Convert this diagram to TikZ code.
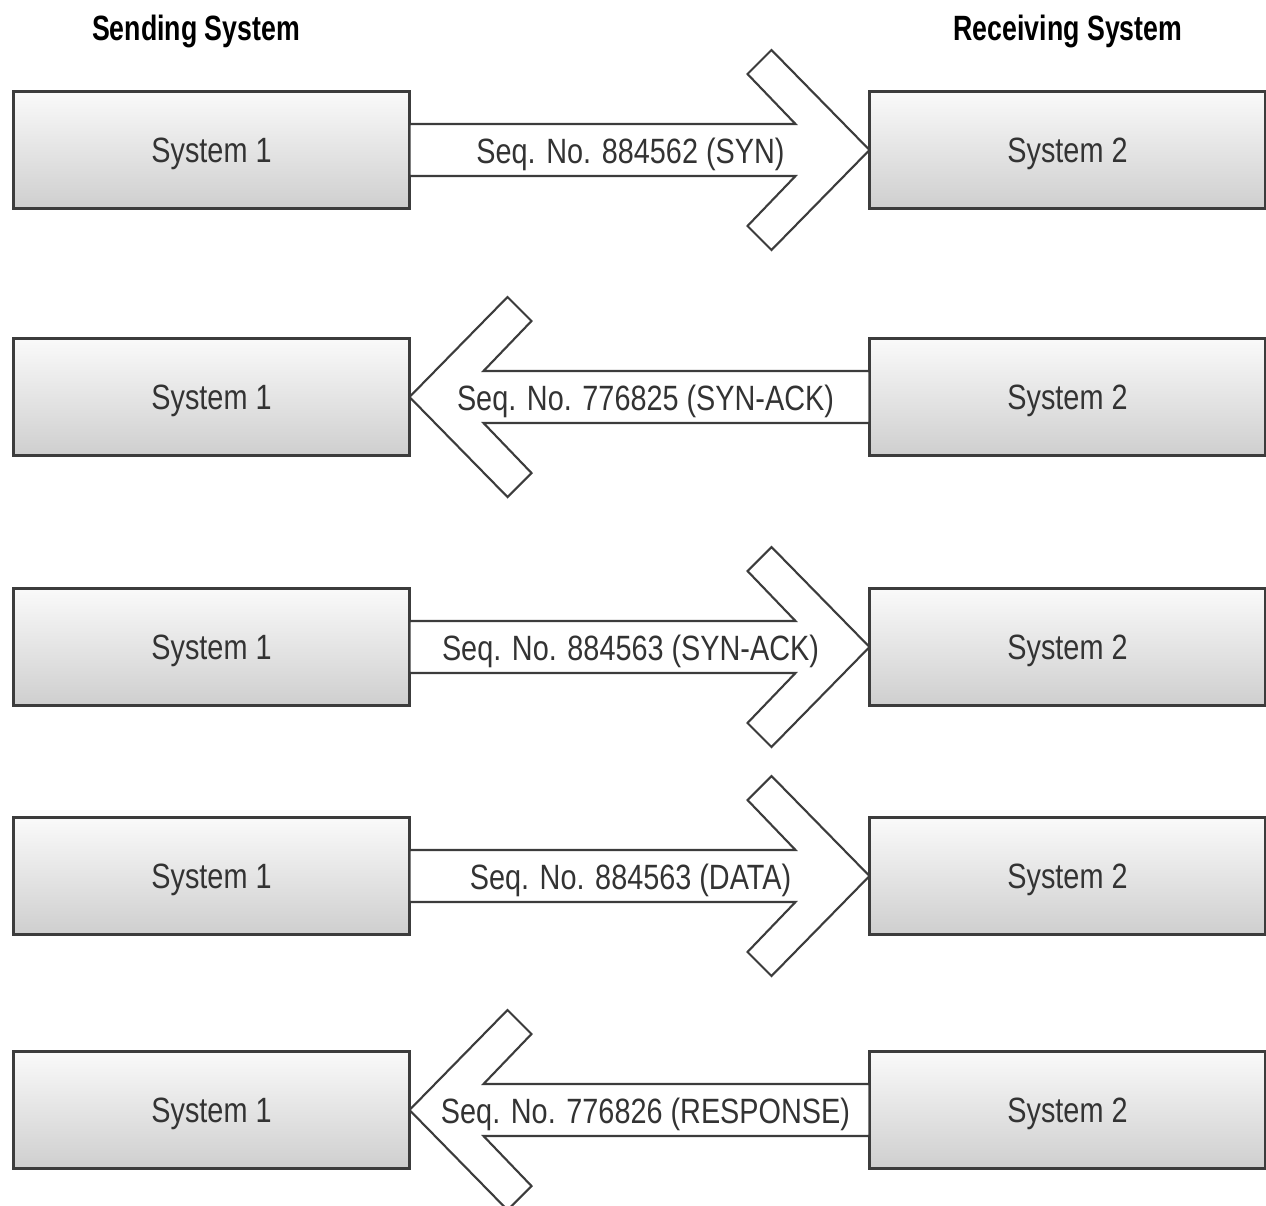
\documentclass[tikz,border=0pt]{standalone}
\usepackage{fontspec}
\setmainfont{Liberation Sans}[FakeStretch=0.82]
\newfontfamily\headfont{Liberation Sans}[FakeStretch=0.76]
\usetikzlibrary{positioning}
\definecolor{edge}{HTML}{3C3C3C}
\definecolor{ink}{HTML}{333333}

\begin{document}
\begin{tikzpicture}[
    sysbox/.style={draw=edge, line width=.7pt, top color=white!96!gray, bottom color=gray!38,
      minimum width=3.96cm, minimum height=1.17cm, inner sep=0pt, outer sep=0pt,
      text depth=0pt, text=ink, font=\fontsize{10}{12}\selectfont},
    msgarrow/.style={draw=edge, line width=.6pt, fill=white, line join=miter},
    msg/.style={text=ink, font=\fontsize{10}{12}\selectfont, inner sep=0pt},
    head/.style={font=\headfont\bfseries\fontsize{10}{12}\selectfont, text=black}]
  \useasboundingbox (0,0) rectangle (12.66,-12.06);
  \node[head] (send) at (1.96,-0.31) {Sending System};
  \node[head] (recv) at (10.68,-0.31) {Receiving System};
  \foreach \r/\y in {1/1.50, 2/3.97, 3/6.47, 4/8.76, 5/11.10}{
    \node[sysbox] (s\r) at (2.115,-\y) {System 1};
    \node[sysbox] (t\r) at (10.675,-\y) {System 2};
  }
  % system 1 -> system 2
  \foreach \r/\lab in {1/{Seq. No. 884562 (SYN)}, 3/{Seq. No. 884563 (SYN-ACK)}, 4/{Seq. No. 884563 (DATA)}}{
    \draw[msgarrow] ([yshift=.26cm]s\r.east) -- ([shift={(-.74,.26)}]t\r.west)
      -- ([shift={(-1.22,.76)}]t\r.west) -- ([shift={(-.98,1)}]t\r.west) -- (t\r.west)
      -- ([shift={(-.98,-1)}]t\r.west) -- ([shift={(-1.22,-.76)}]t\r.west)
      -- ([shift={(-.74,-.26)}]t\r.west) -- ([yshift=-.26cm]s\r.east) -- cycle;
    \node[msg] (m\r) at ([xshift=2.21cm,yshift=-.04cm]s\r.east) {\lab};
  }
  % system 2 -> system 1
  \foreach \r/\lab in {2/{Seq. No. 776825 (SYN-ACK)}, 5/{Seq. No. 776826 (RESPONSE)}}{
    \draw[msgarrow] ([yshift=.26cm]t\r.west) -- ([shift={(.74,.26)}]s\r.east)
      -- ([shift={(1.22,.76)}]s\r.east) -- ([shift={(.98,1)}]s\r.east) -- (s\r.east)
      -- ([shift={(.98,-1)}]s\r.east) -- ([shift={(1.22,-.76)}]s\r.east)
      -- ([shift={(.74,-.26)}]s\r.east) -- ([yshift=-.26cm]t\r.west) -- cycle;
    \node[msg] (m\r) at ([xshift=2.36cm,yshift=-.04cm]s\r.east) {\lab};
  }
\end{tikzpicture}
\end{document}
